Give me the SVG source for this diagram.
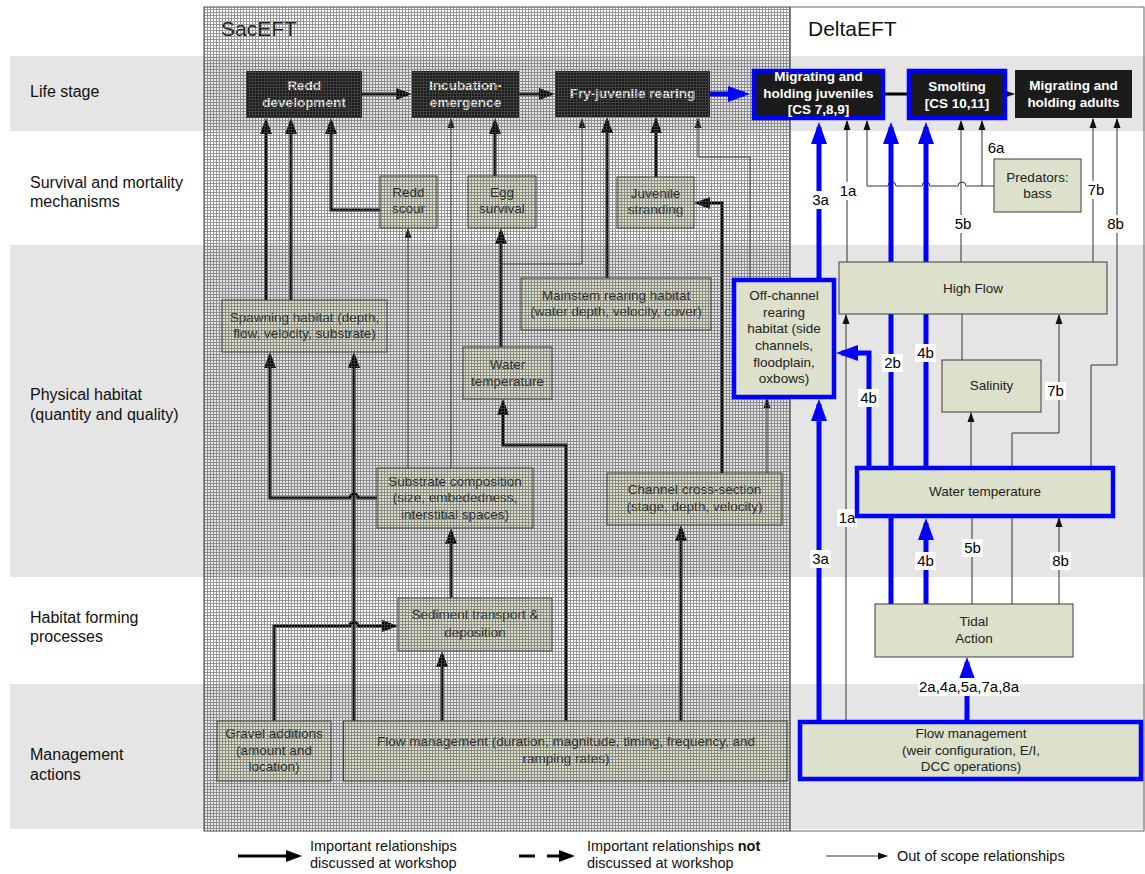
<svg xmlns="http://www.w3.org/2000/svg" width="1145" height="874" viewBox="0 0 1145 874">
<defs>
<style>
text{font-family:"Liberation Sans",Arial,sans-serif}
.band{fill:#e5e5e5}
.row{font-size:16px;fill:#111}
.title{font-size:21px;fill:#111}
.node{fill:#dde0cb;stroke:#3c3c3c;stroke-width:1}
.bnode{fill:#dde0cb;stroke:#0000ff;stroke-width:4.5}
.life{fill:#1b1b1b}
.lifeb{fill:#1b1b1b;stroke:#0000ff;stroke-width:4.5}
.t{font-size:13.5px;fill:#222;text-anchor:middle}
.tw{font-size:13.5px;fill:#fff;font-weight:bold;text-anchor:middle}
.thick{fill:none;stroke:#000;stroke-width:3}
.thin{fill:none;stroke:#333;stroke-width:1}
.blue{fill:none;stroke:#0000ff;stroke-width:5}
.lbl{font-size:15px;fill:#000;text-anchor:middle}
.lbg{fill:#fff}
.leg{font-size:14.5px;fill:#111}
</style>
<pattern id="grid" width="3" height="3" patternUnits="userSpaceOnUse">
<path d="M0 0.5H3M0.5 0V3" stroke="#555" stroke-width="1" fill="none"/>
</pattern>
<marker id="mk" markerUnits="userSpaceOnUse" markerWidth="18" markerHeight="14" refX="12" refY="6" orient="auto" overflow="visible"><path d="M0,0 L16,6 L0,12 z" fill="#000"/></marker>
<marker id="mt" markerUnits="userSpaceOnUse" markerWidth="12" markerHeight="8" refX="9" refY="3.5" orient="auto" overflow="visible"><path d="M0,0 L10,3.5 L0,7 z" fill="#111"/></marker>
<marker id="mb" markerUnits="userSpaceOnUse" markerWidth="24" markerHeight="18" refX="17" refY="8" orient="auto" overflow="visible"><path d="M0,0 L22,8 L0,16 z" fill="#0000ff"/></marker>
</defs>

<rect width="1145" height="874" fill="#fff"/>

<g id="bands">
<rect class="band" x="10" y="56" width="1135" height="75"/>
<rect class="band" x="10" y="245" width="1135" height="332"/>
<rect class="band" x="10" y="684" width="1135" height="145"/>
<text class="row" x="30" y="97">Life stage</text>
<text class="row" x="30" y="188">Survival and mortality</text>
<text class="row" x="30" y="207">mechanisms</text>
<text class="row" x="30" y="400">Physical habitat</text>
<text class="row" x="30" y="420">(quantity and quality)</text>
<text class="row" x="30" y="623">Habitat forming</text>
<text class="row" x="30" y="642">processes</text>
<text class="row" x="30" y="760">Management</text>
<text class="row" x="30" y="780">actions</text>
</g>

<g id="sac-panel">
<text class="title" x="221" y="36">SacEFT</text>
</g>

<g id="connectors-sac">
<path class="thick" d="M362,94 H408" marker-end="url(#mk)"/>
<path class="thick" d="M519,94 H551" marker-end="url(#mk)"/>
<path class="thick" d="M266,300 V122" marker-end="url(#mk)"/>
<path class="thick" d="M291,300 V122" marker-end="url(#mk)"/>
<path class="thick" d="M380,210 H331 V122" marker-end="url(#mk)"/>
<path class="thin" d="M408,468 V229" marker-end="url(#mt)"/>
<path class="thin" d="M451,468 V119" marker-end="url(#mt)"/>
<path class="thick" d="M495,176 V122" marker-end="url(#mk)"/>
<path class="thick" d="M501,347 V232" marker-end="url(#mk)"/>
<path class="thin" d="M501,264 H582 V119" marker-end="url(#mt)"/>
<path class="thick" d="M607,278 V121" marker-end="url(#mk)"/>
<path class="thick" d="M656,177 V121" marker-end="url(#mk)"/>
<path class="thick" d="M722,473 V203 H698" marker-end="url(#mk)"/>
<path class="thin" d="M750,278 V157 H698 V119" marker-end="url(#mt)"/>
<path class="thin" d="M767,473 V399" marker-end="url(#mt)"/>
<path class="thick" d="M377,498 H358 A4,4 0 0 0 350,498 H270 V356" marker-end="url(#mk)"/>
<path class="thick" d="M354,721 V356" marker-end="url(#mk)"/>
<path class="thick" d="M274,721 V626 H350 A4,4 0 0 1 358,626 H394" marker-end="url(#mk)"/>
<path class="thick" d="M451,598 V532" marker-end="url(#mk)"/>
<path class="thick" d="M442,721 V655" marker-end="url(#mk)"/>
<path class="thick" d="M566,721 V445 H503 V403" marker-end="url(#mk)"/>
<path class="thick" d="M681,721 V529" marker-end="url(#mk)"/>
</g>

<g id="redd-development"><rect class="life" x="246" y="71" width="116" height="47"/><text class="tw" x="304" y="90">Redd</text><text class="tw" x="304" y="107">development</text></g>
<g id="incubation-emergence"><rect class="life" x="412" y="71" width="107" height="47"/><text class="tw" x="465.5" y="90">Incubation-</text><text class="tw" x="465.5" y="107">emergence</text></g>
<g id="fry-juvenile-rearing"><rect class="life" x="555" y="71" width="155" height="46"/><text class="tw" x="632.5" y="98">Fry-juvenile rearing</text></g>
<g id="redd-scour"><rect class="node" x="380" y="176" width="57" height="52"/><text class="t" x="408.5" y="197">Redd</text><text class="t" x="408.5" y="213">scour</text></g>
<g id="egg-survival"><rect class="node" x="468" y="176" width="68" height="52"/><text class="t" x="502" y="197">Egg</text><text class="t" x="502" y="213">survival</text></g>
<g id="juvenile-stranding"><rect class="node" x="617" y="177" width="77" height="51"/><text class="t" x="655.5" y="198">Juvenile</text><text class="t" x="655.5" y="214">stranding</text></g>
<g id="spawning-habitat"><rect class="node" x="222" y="300" width="165" height="52"/><text class="t" x="304.5" y="322">Spawning habitat (depth,</text><text class="t" x="304.5" y="338">flow, velocity, substrate)</text></g>
<g id="water-temperature-sac"><rect class="node" x="463" y="347" width="89" height="52"/><text class="t" x="507.5" y="369">Water</text><text class="t" x="507.5" y="386">temperature</text></g>
<g id="mainstem-rearing"><rect class="node" x="521" y="278" width="190" height="52"/><text class="t" x="616" y="300">Mainstem rearing habitat</text><text class="t" x="616" y="316">(water depth, velocity, cover)</text></g>
<g id="substrate-composition"><rect class="node" x="377" y="468" width="156" height="60"/><text class="t" x="455" y="486">Substrate composition</text><text class="t" x="455" y="502">(size, embededness,</text><text class="t" x="455" y="519">interstitial spaces)</text></g>
<g id="channel-cross-section"><rect class="node" x="607" y="473" width="175" height="52"/><text class="t" x="694.5" y="494">Channel cross-section</text><text class="t" x="694.5" y="511">(stage, depth, velocity)</text></g>
<g id="sediment-transport"><rect class="node" x="398" y="598" width="154" height="53"/><text class="t" x="475" y="619">Sediment transport &amp;</text><text class="t" x="475" y="637">deposition</text></g>
<g id="gravel-additions"><rect class="node" x="217" y="721" width="114" height="60"/><text class="t" x="274" y="738">Gravel additions</text><text class="t" x="274" y="755">(amount and</text><text class="t" x="274" y="771">location)</text></g>
<g id="flow-management-sac"><rect class="node" x="343.5" y="721" width="443.5" height="60"/><text class="t" x="566" y="746">Flow management (duration, magnitude, timing, frequency, and</text><text class="t" x="566" y="763">ramping rates)</text></g>

<g id="sac-overlay">
<rect x="204" y="7" width="586" height="824" fill="url(#grid)" opacity="0.62"/>
<rect x="204" y="7" width="586" height="824" fill="none" stroke="#444" stroke-width="1"/>
</g>

<g id="delta-panel">
<rect x="790" y="7" width="354" height="824" fill="none" stroke="#666" stroke-width="1"/>
<text class="title" x="808" y="36">DeltaEFT</text>
</g>

<g id="connectors-delta">
<path class="blue" d="M710,94 H745" marker-end="url(#mb)"/>
<path class="thick" d="M885,94 H907"/>
<path class="thin" d="M1007,94 H1014" marker-end="url(#mt)"/>
<path class="blue" d="M819,278 V127" marker-end="url(#mb)"/>
<path class="thin" d="M847,262 V121" marker-end="url(#mt)"/>
<path class="thin" d="M994,186 H966 A4,4 0 0 0 958,186 H930 A4,4 0 0 0 922,186 H896 A4,4 0 0 0 888,186 H867 V121" marker-end="url(#mt)"/>
<path class="thin" d="M982,186 V121" marker-end="url(#mt)"/>
<path class="blue" d="M891,466 V127" marker-end="url(#mb)"/>
<path class="blue" d="M926,466 V127" marker-end="url(#mb)"/>
<path class="thin" d="M961,262 V121" marker-end="url(#mt)"/>
<path class="thin" d="M962,314 V360"/>
<path class="thin" d="M1093,262 V119" marker-end="url(#mt)"/>
<path class="thin" d="M1091,466 V365 H1117 V119" marker-end="url(#mt)"/>
<path class="thin" d="M846,720 V315" marker-end="url(#mt)"/>
<path class="blue" d="M869,466 V353 H841" marker-end="url(#mb)"/>
<path class="thin" d="M1012,466 V433 H1059 V315" marker-end="url(#mt)"/>
<path class="thin" d="M971,466 V413" marker-end="url(#mt)"/>
<path class="blue" d="M819,720 V404" marker-end="url(#mb)"/>
<path class="blue" d="M967,720 V662" marker-end="url(#mb)"/>
<path class="blue" d="M891,604 V518"/>
<path class="blue" d="M926,604 V523" marker-end="url(#mb)"/>
<path class="thin" d="M972,604 V517"/>
<path class="thin" d="M1012,604 V517"/>
<path class="thin" d="M1059,604 V518" marker-end="url(#mt)"/>
</g>

<g id="connector-labels">
<rect class="lbg" x="810" y="191" width="21" height="18"/><text class="lbl" x="820.5" y="205">3a</text>
<rect class="lbg" x="838" y="182" width="20" height="18"/><text class="lbl" x="848" y="196">1a</text>
<text class="lbl" x="996" y="153">6a</text>
<rect class="lbg" x="952" y="215" width="21" height="18"/><text class="lbl" x="963" y="229">5b</text>
<rect class="lbg" x="1085" y="181" width="21" height="18"/><text class="lbl" x="1096" y="195">7b</text>
<rect class="lbg" x="1105" y="215" width="21" height="18"/><text class="lbl" x="1115.5" y="229">8b</text>
<rect class="lbg" x="882" y="354" width="21" height="18"/><text class="lbl" x="892.5" y="368">2b</text>
<rect class="lbg" x="915" y="344" width="21" height="18"/><text class="lbl" x="925.5" y="358">4b</text>
<rect class="lbg" x="858" y="389" width="21" height="18"/><text class="lbl" x="868.5" y="403">4b</text>
<rect class="lbg" x="1045" y="382" width="21" height="18"/><text class="lbl" x="1055.5" y="396">7b</text>
<rect class="lbg" x="837" y="509" width="20" height="18"/><text class="lbl" x="847" y="523">1a</text>
<rect class="lbg" x="810" y="550" width="21" height="18"/><text class="lbl" x="820.5" y="564">3a</text>
<rect class="lbg" x="915" y="552" width="21" height="18"/><text class="lbl" x="925.5" y="566">4b</text>
<rect class="lbg" x="962" y="539" width="21" height="18"/><text class="lbl" x="972.5" y="553">5b</text>
<rect class="lbg" x="1050" y="552" width="21" height="18"/><text class="lbl" x="1060.5" y="566">8b</text>
<rect class="lbg" x="918" y="678" width="102" height="18"/><text class="lbl" x="969" y="692">2a,4a,5a,7a,8a</text>
</g>

<g id="migrating-juveniles"><rect class="lifeb" x="754" y="71" width="129" height="47"/><text class="tw" x="818.5" y="81">Migrating and</text><text class="tw" x="818.5" y="98">holding juveniles</text><text class="tw" x="818.5" y="114">[CS 7,8,9]</text></g>
<g id="smolting"><rect class="lifeb" x="909" y="71" width="96" height="47"/><text class="tw" x="957" y="91">Smolting</text><text class="tw" x="957" y="108">[CS 10,11]</text></g>
<g id="migrating-adults"><rect class="life" x="1015" y="70" width="117" height="48"/><text class="tw" x="1073.5" y="90">Migrating and</text><text class="tw" x="1073.5" y="107">holding adults</text></g>
<g id="predators-bass"><rect class="node" x="994" y="159" width="87" height="53"/><text class="t" x="1037.5" y="182">Predators:</text><text class="t" x="1037.5" y="198">bass</text></g>
<g id="off-channel-habitat"><rect class="bnode" x="734" y="280" width="100" height="117"/><text class="t" x="784" y="300">Off-channel</text><text class="t" x="784" y="317">rearing</text><text class="t" x="784" y="333">habitat (side</text><text class="t" x="784" y="350">channels,</text><text class="t" x="784" y="367">floodplain,</text><text class="t" x="784" y="383">oxbows)</text></g>
<g id="high-flow"><rect class="node" x="839" y="262" width="268" height="52"/><text class="t" x="973" y="293">High Flow</text></g>
<g id="salinity"><rect class="node" x="942" y="360" width="99" height="52"/><text class="t" x="991.5" y="390">Salinity</text></g>
<g id="water-temperature-delta"><rect class="bnode" x="857" y="468" width="256" height="48"/><text class="t" x="985" y="496">Water temperature</text></g>
<g id="tidal-action"><rect class="node" x="875" y="604" width="198" height="53"/><text class="t" x="974" y="626">Tidal</text><text class="t" x="974" y="643">Action</text></g>
<g id="flow-management-delta"><rect class="bnode" x="800" y="722" width="341" height="57"/><text class="t" x="971" y="738">Flow management</text><text class="t" x="971" y="755">(weir configuration, E/I,</text><text class="t" x="971" y="771">DCC operations)</text></g>

<g id="legend">
<path class="thick" d="M238,856 H298" marker-end="url(#mk)"/>
<text class="leg" x="310" y="851">Important relationships</text>
<text class="leg" x="310" y="868">discussed at workshop</text>
<path class="thick" d="M519,856 H535"/>
<path class="thick" d="M547,856 H571" marker-end="url(#mk)"/>
<text class="leg" x="587" y="851">Important relationships <tspan font-weight="bold">not</tspan></text>
<text class="leg" x="587" y="868">discussed at workshop</text>
<path class="thin" d="M826,856 H887" marker-end="url(#mt)"/>
<text class="leg" x="897" y="861">Out of scope relationships</text>
</g>
</svg>
